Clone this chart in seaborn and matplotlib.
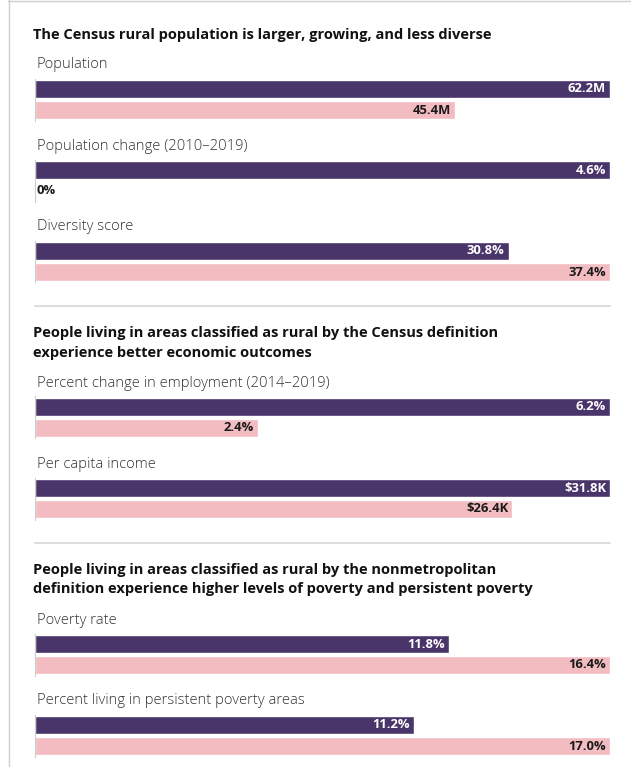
import matplotlib
matplotlib.use("Agg")
import matplotlib.pyplot as plt
import seaborn as sns
import pandas as pd

# ---------------- data ----------------
section_titles = [
    "The Census rural population is larger, growing, and less diverse",
    "People living in areas classified as rural by the Census definition\nexperience better economic outcomes",
    "People living in areas classified as rural by the nonmetropolitan\ndefinition experience higher levels of poverty and persistent poverty",
]
metrics = [
    "Population",
    "Population change (2010–2019)",
    "Diversity score",
    "Percent change in employment (2014–2019)",
    "Per capita income",
    "Poverty rate",
    "Percent living in persistent poverty areas",
]
metric_section = [0, 0, 0, 1, 1, 2, 2]
definitions = ["Census", "Nonmetropolitan"]
census_values = [62.2, 4.6, 30.8, 6.2, 31.8, 11.8, 11.2]
nonmetro_values = [45.4, 0.0, 37.4, 2.4, 26.4, 16.4, 17.0]
census_labels = ["62.2M", "4.6%", "30.8%", "6.2%", "$31.8K", "11.8%", "11.2%"]
nonmetro_labels = ["45.4M", "0%", "37.4%", "2.4%", "$26.4K", "16.4%", "17.0%"]

# ---------------- style ----------------
sns.set_theme(style="white")
plt.rcParams["font.family"] = ["Open Sans", "DejaVu Sans"]

PURPLE = "#4a356a"
PINK = "#f2bcc1"
W, H = 631, 767

fig = plt.figure(figsize=(W / 100, H / 100), dpi=100)


def fx(x):
    return x / W


def fy(y):
    return 1 - y / H


# frame lines (top and left)
fig.add_artist(plt.Line2D([fx(8), fx(W)], [fy(0.5), fy(0.5)], color="#cfcfcf", lw=1.0))
fig.add_artist(plt.Line2D([fx(8.5), fx(8.5)], [fy(0), fy(H)], color="#cfcfcf", lw=1.0))

# section titles
title_y = [28, 326, 563]
for t, ty in zip(section_titles, title_y):
    fig.text(fx(33), fy(ty), t, ha="left", va="top", fontsize=10.55,
             fontweight="bold", color="#111111", linespacing=1.5)

# separators
for sy in [306, 543]:
    fig.add_artist(plt.Line2D([fx(35), fx(610)], [fy(sy), fy(sy)], color="#dddddd", lw=1.5))

bar_tops = [80, 161, 242, 398, 479, 635, 716]
X0, X1 = 35, 610
unit = 21.0       # px between bar centres
bw = 18.0 / unit  # bar thickness in category units

for i, m in enumerate(metrics):
    df = pd.DataFrame({
        "definition": definitions,
        "value": [census_values[i], nonmetro_values[i]],
    })
    top = bar_tops[i]
    ax_top = top - (0.5 - bw / 2) * unit
    ax_bottom = ax_top + 2 * unit
    ax = fig.add_axes([fx(X0), fy(ax_bottom), fx(X1) - fx(X0), (ax_bottom - ax_top) / H])
    sns.barplot(data=df, y="definition", x="value", hue="definition",
                palette=[PURPLE, PINK], order=definitions, hue_order=definitions,
                width=bw, orient="h", legend=False, ax=ax, saturation=1)
    vmax = max(census_values[i], nonmetro_values[i])
    ax.set_xlim(0, vmax)
    ax.set_ylim(1.5, -0.5)
    ax.set_xticks([])
    ax.set_yticks([])
    ax.set_xlabel("")
    ax.set_ylabel("")
    for s in ["top", "right", "bottom"]:
        ax.spines[s].set_visible(False)
    ax.spines["left"].set_color("#cccccc")
    ax.spines["left"].set_linewidth(0.8)
    ax.patch.set_alpha(0)

    # value labels
    pad = 4 / (X1 - X0) * vmax
    for j, (v, lab, col) in enumerate(zip([census_values[i], nonmetro_values[i]],
                                          [census_labels[i], nonmetro_labels[i]],
                                          ["white", "#1a1a1a"])):
        if v > 0:
            ax.text(v - pad, j, lab, ha="right", va="center", fontsize=9.4,
                    fontweight="bold", color=col, parse_math=False)
        else:
            ax.text(pad * 0.3, j, lab, ha="left", va="center", fontsize=9.4,
                    fontweight="bold", color="#1a1a1a", parse_math=False)

    # metric label
    fig.text(fx(37), fy(top - 15), m, ha="left", va="center", fontsize=10.6,
             color="#333333", fontweight="light")

fig.savefig("out.png", dpi=100)
